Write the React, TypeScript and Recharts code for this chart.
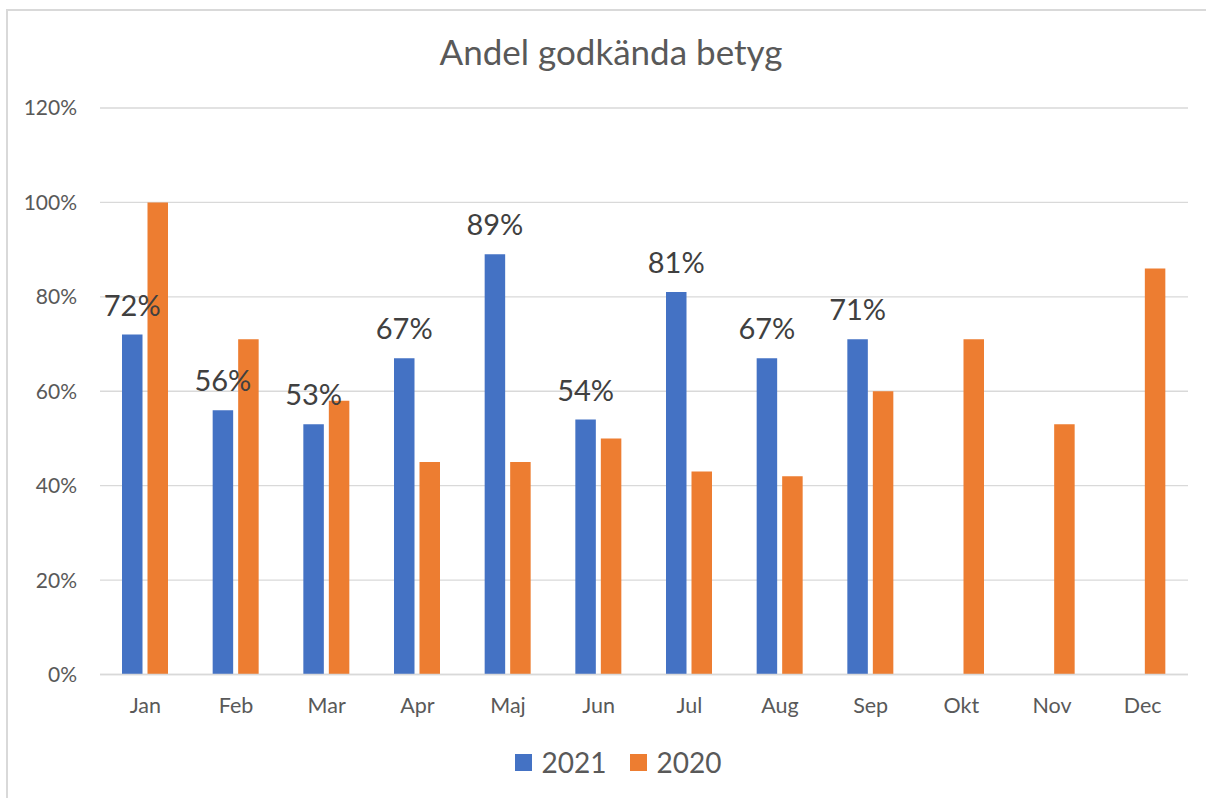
import React from 'react';
import { BarChart, Bar, XAxis, YAxis, CartesianGrid, Legend, LabelList } from 'recharts';

const months = ['Jan', 'Feb', 'Mar', 'Apr', 'Maj', 'Jun', 'Jul', 'Aug', 'Sep', 'Okt', 'Nov', 'Dec'];
const values2021: (number | null)[] = [72, 56, 53, 67, 89, 54, 81, 67, 71, null, null, null];
const values2020: number[] = [100, 71, 58, 45, 45, 50, 43, 42, 60, 71, 53, 86];
const yTicks = [0, 20, 40, 60, 80, 100, 120];
const seriesNames = ['2021', '2020'];
const title = 'Andel godkända betyg';

const data = months.map((m, i) => ({ month: m, y2021: values2021[i], y2020: values2020[i] }));

const FONT = 'Lato, "Open Sans", sans-serif';
const BLUE = '#4472C4';
const ORANGE = '#ED7D31';

const LegendContent = () => (
  <div style={{ display: 'flex', justifyContent: 'center', alignItems: 'center', fontFamily: FONT, fontSize: 28, color: '#595959' }}>
    {[BLUE, ORANGE].map((c, i) => (
      <div key={i} style={{ display: 'flex', alignItems: 'center', marginRight: i === 0 ? 23 : 0 }}>
        <div style={{ width: 17, height: 17, background: c, marginRight: 10 }} />
        <span>{seriesNames[i]}</span>
      </div>
    ))}
  </div>
);

export default function App() {
  return (
    <div style={{ position: 'absolute', left: 0, top: 0, width: 1206, height: 798, overflow: 'hidden', background: '#fff' }}>
      <div style={{ position: 'absolute', left: 6, top: 9, width: 1400, height: 1000, border: '2px solid #D9D9D9', boxSizing: 'border-box' }} />
      <div style={{ position: 'absolute', left: 0, width: 1222, top: 31, textAlign: 'center', fontFamily: FONT, fontSize: 35, color: '#595959', lineHeight: '40px' }}>
        {title}
      </div>
      <div style={{ position: 'absolute', left: 0, top: 0 }}>
        <BarChart
          width={1206}
          height={798}
          data={data}
          margin={{ top: 108, right: 18, left: 10, bottom: 93.5 }}
          barGap={5}
          barSize={20.5}
        >
          <CartesianGrid vertical={false} stroke="#D9D9D9" strokeWidth={1.3} />
          <XAxis
            dataKey="month"
            height={30}
            axisLine={{ stroke: '#D9D9D9', strokeWidth: 1.5 }}
            tickLine={false}
            tickSize={6}
            tickMargin={17}
            tick={{ fill: '#595959', fontSize: 21.5, fontFamily: FONT }}
            interval={0}
          />
          <YAxis
            width={90}
            domain={[0, 120]}
            ticks={yTicks}
            interval={0}
            axisLine={false}
            tickLine={false}
            tickSize={6}
            tickMargin={17}
            tickFormatter={(v: number) => `${v}%`}
            tick={{ fill: '#595959', fontSize: 21, fontFamily: FONT }}
          />
          <Legend
            layout="horizontal"
            verticalAlign="middle"
            align="center"
            content={<LegendContent />}
            wrapperStyle={{ top: 745, left: 0, width: 1236 }}
          />
          <Bar dataKey="y2021" name={seriesNames[0]} fill={BLUE} isAnimationActive={false}>
            <LabelList
              dataKey="y2021"
              position="top"
              offset={19}
              formatter={(v: any) => (v == null ? '' : `${v}%`)}
              style={{ fill: '#404040', fontSize: 29, fontFamily: FONT }}
            />
          </Bar>
          <Bar dataKey="y2020" name={seriesNames[1]} fill={ORANGE} isAnimationActive={false} />
        </BarChart>
      </div>
    </div>
  );
}
